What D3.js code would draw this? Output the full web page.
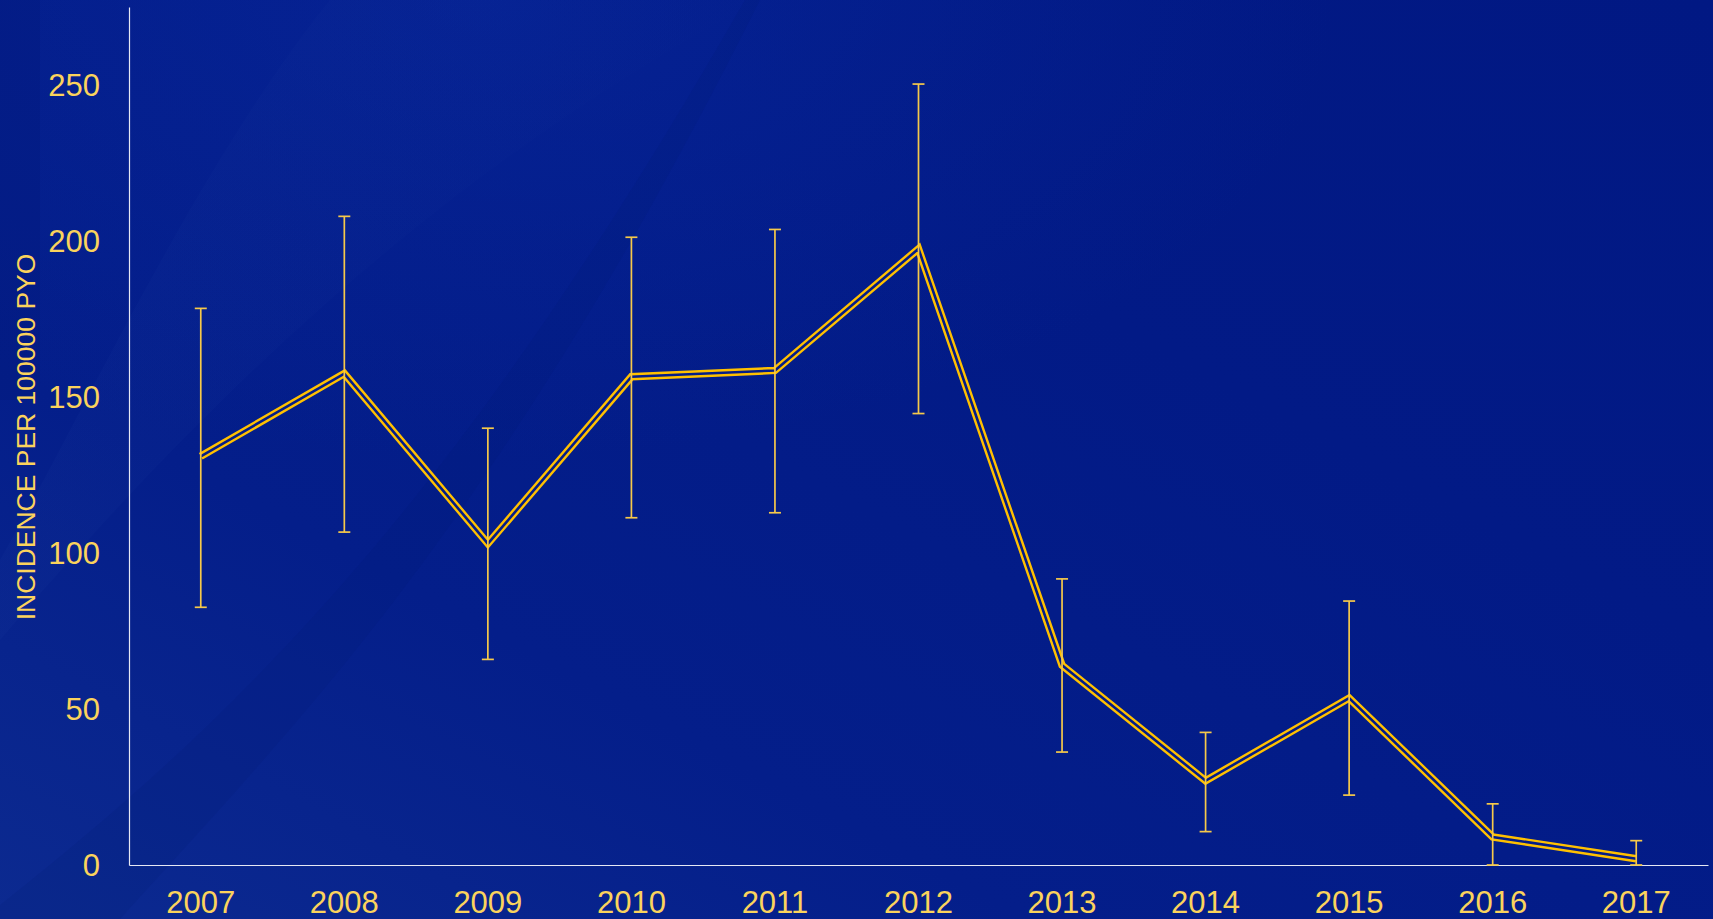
<!DOCTYPE html>
<html>
<head>
<meta charset="utf-8">
<script src="https://cdn.jsdelivr.net/npm/d3@7/dist/d3.min.js"></script>
<style>
  html, body { margin: 0; padding: 0; background: #031a86; overflow: hidden; }
  svg { display: block; }
  text { font-family: "Liberation Sans", Arial, sans-serif; }
</style>
</head>
<body>
<svg id="chart" width="1713" height="919"></svg>
<script>
// Incidence per 100000 person-years of observation, by calendar year
const years = ["2007", "2008", "2009", "2010", "2011", "2012", "2013", "2014", "2015", "2016", "2017"];
const incidence = [131, 157.5, 103, 156.5, 158.5, 197.5, 64, 27, 53.5, 9, 2];
const ciLower = [82.6, 106.7, 65.9, 111.3, 112.9, 144.7, 36.2, 10.7, 22.4, 0, 0];
const ciUpper = [178.4, 207.9, 140, 201.2, 203.7, 250.3, 91.7, 42.5, 84.6, 19.6, 7.8];
const yTicks = [0, 50, 100, 150, 200, 250];
const yTitle = "INCIDENCE PER 100000 PYO";

const W = 1713, H = 919;
const gold = "#ffc000";
const textGold = "#fbd35c";
const barGold = "#f6c94a";

const svg = d3.select("#chart");
const defs = svg.append("defs");

// Background: deep blue with soft lighter diagonal sweeps
const bg = defs.append("linearGradient").attr("id", "bg")
  .attr("x1", "0").attr("y1", "1").attr("x2", "1").attr("y2", "0");
bg.append("stop").attr("offset", "0").attr("stop-color", "#0c2a90");
bg.append("stop").attr("offset", "0.3").attr("stop-color", "#041e8a");
bg.append("stop").attr("offset", "0.65").attr("stop-color", "#021a86");
bg.append("stop").attr("offset", "1").attr("stop-color", "#011883");
svg.append("rect").attr("width", W).attr("height", H).attr("fill", "url(#bg)");

const glow = defs.append("radialGradient").attr("id", "glow")
  .attr("cx", "0.28").attr("cy", "0.0").attr("r", "0.5");
glow.append("stop").attr("offset", "0").attr("stop-color", "#0a2ca4").attr("stop-opacity", 0.45);
glow.append("stop").attr("offset", "1").attr("stop-color", "#0a2ca4").attr("stop-opacity", 0);
svg.append("rect").attr("width", W).attr("height", H).attr("fill", "url(#glow)");

const sweep = defs.append("linearGradient").attr("id", "sweep")
  .attr("x1", "0").attr("y1", "0").attr("x2", "1").attr("y2", "0");
sweep.append("stop").attr("offset", "0").attr("stop-color", "#1a3a9e").attr("stop-opacity", 0.3);
sweep.append("stop").attr("offset", "1").attr("stop-color", "#1a3a9e").attr("stop-opacity", 0);
svg.append("path")
  .attr("d", "M0,919 L0,640 C180,430 420,180 760,0 L330,0 C200,160 80,420 0,560 Z")
  .attr("fill", "url(#sweep)").attr("opacity", 0.45);
svg.append("path")
  .attr("d", "M0,919 L120,919 C300,720 500,520 760,0 L745,0 C470,480 260,700 0,905 Z")
  .attr("fill", "#01166f").attr("opacity", 0.12);
svg.append("rect").attr("x", 0).attr("y", 0).attr("width", 40).attr("height", 400)
  .attr("fill", "#011670").attr("opacity", 0.2);

// Scales
const x = d3.scaleBand().domain(years).range([129, 1708]);
const cx = d => x(d) + x.bandwidth() / 2;
const y = d3.scaleLinear().domain([0, 275]).range([865, 7]);

// Y axis
const yAxis = svg.append("g").attr("transform", "translate(129,0)")
  .call(d3.axisLeft(y).tickValues(yTicks).tickSize(0).tickPadding(29).tickSizeOuter(0));
yAxis.select(".domain").attr("stroke", "#e6e8f4").attr("stroke-width", 1.2);
yAxis.selectAll("text").attr("fill", textGold).attr("font-size", 31)
  .attr("font-family", "Liberation Sans, Arial, sans-serif").attr("dy", "0.35em");

// X axis
const xAxis = svg.append("g").attr("transform", "translate(0,865)")
  .call(d3.axisBottom(x).tickSize(0).tickPadding(26).tickSizeOuter(0));
xAxis.select(".domain").attr("stroke", "#e6e8f4").attr("stroke-width", 1.2);
xAxis.selectAll("text").attr("fill", textGold).attr("font-size", 31)
  .attr("font-family", "Liberation Sans, Arial, sans-serif");

// Y axis title
svg.append("text")
  .attr("transform", "translate(35,437) rotate(-90)")
  .attr("text-anchor", "middle")
  .attr("fill", textGold).attr("font-size", 26.5)
  .text(yTitle);

const rows = years.map((yr, i) => ({ yr, v: incidence[i], lo: ciLower[i], hi: ciUpper[i] }));

// Double-stroke trend line: wide gold stroke with the centre cut out
const line = d3.line().x(d => cx(d.yr)).y(d => y(d.v));
const mask = defs.append("mask").attr("id", "hollow").attr("maskUnits", "userSpaceOnUse")
  .attr("x", 0).attr("y", 0).attr("width", W).attr("height", H);
mask.append("rect").attr("width", W).attr("height", H).attr("fill", "white");
mask.append("path").datum(rows).attr("d", line)
  .attr("fill", "none").attr("stroke", "black").attr("stroke-width", 2.6)
  .attr("stroke-linejoin", "miter").attr("stroke-miterlimit", 10);

svg.append("path").datum(rows).attr("d", line)
  .attr("fill", "none").attr("stroke", gold).attr("stroke-width", 7.4)
  .attr("stroke-linejoin", "miter").attr("stroke-miterlimit", 10)
  .attr("mask", "url(#hollow)");

// Error bars
const eb = svg.append("g").attr("stroke", barGold).attr("stroke-width", 1.7).attr("fill", "none");
const cap = 6;
eb.selectAll("line.v").data(rows).join("line").attr("class", "v")
  .attr("x1", d => cx(d.yr)).attr("x2", d => cx(d.yr))
  .attr("y1", d => y(d.lo)).attr("y2", d => y(d.hi));
eb.selectAll("line.t").data(rows).join("line").attr("class", "t")
  .attr("x1", d => cx(d.yr) - cap).attr("x2", d => cx(d.yr) + cap)
  .attr("y1", d => y(d.hi)).attr("y2", d => y(d.hi));
eb.selectAll("line.b").data(rows).join("line").attr("class", "b")
  .attr("x1", d => cx(d.yr) - cap).attr("x2", d => cx(d.yr) + cap)
  .attr("y1", d => y(d.lo)).attr("y2", d => y(d.lo));
</script>
</body>
</html>
